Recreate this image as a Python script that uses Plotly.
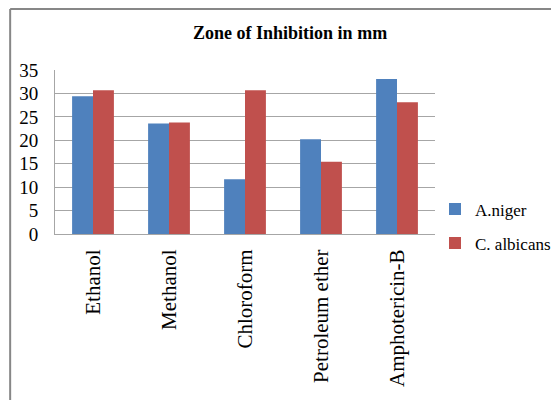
import plotly.graph_objects as go

categories = ["Ethanol", "Methanol", "Chloroform", "Petroleum ether", "Amphotericin-B"]
a_niger = [29.4, 23.6, 11.7, 20.2, 33.1]
c_albicans = [30.7, 23.8, 30.7, 15.4, 28.1]
series_names = ["A.niger", "C. albicans"]
y_ticks = [0, 5, 10, 15, 20, 25, 30, 35]

FONT = "Liberation Serif"

fig = go.Figure()
fig.add_trace(go.Bar(x=categories, y=a_niger, name=series_names[0], legendgroup="a",
                     marker=dict(color="#4F81BD", line=dict(width=0))))
fig.add_trace(go.Bar(x=categories, y=c_albicans, name=series_names[1], legendgroup="b",
                     marker=dict(color="#C0504D", line=dict(width=0))))

# page body has an 8px margin, so the figure is 551x392 drawn at (8,8)
fig.update_layout(
    width=551, height=392,
    margin=dict(l=47, r=124, t=62, b=166, autoexpand=False),
    paper_bgcolor="white", plot_bgcolor="white",
    barmode="group", bargap=0.45, bargroupgap=0,
    font=dict(family=FONT, color="black", size=18),
    title=dict(text="<b>Zone of Inhibition in mm</b>", x=0.512, xref="container",
               xanchor="center", y=0.936, yref="container", yanchor="middle",
               font=dict(family=FONT, size=18, color="black")),
    legend=dict(x=1.0, xanchor="left", y=0.046, yanchor="middle",
                font=dict(family=FONT, size=17, color="black"),
                bgcolor="rgba(0,0,0,0)", itemwidth=30, tracegroupgap=9),
    showlegend=True,
)
fig.update_yaxes(range=[0, 35], tickvals=y_ticks, ticks="", showgrid=True,
                 gridcolor="#A6A6A6", gridwidth=1, showline=True, linecolor="#A6A6A6",
                 linewidth=1, zeroline=False, tickfont=dict(family=FONT, size=19),
                 ticklabelstandoff=12)
fig.update_xaxes(tickangle=-90, showline=True, linecolor="#A6A6A6", linewidth=1,
                 ticks="", tickfont=dict(family=FONT, size=21), ticklabelstandoff=6)

# outer chart frame
fig.add_shape(type="line", xref="paper", yref="paper", x0=-0.118, x1=2.0,
              y0=1.372, y1=1.372, line=dict(color="#878787", width=2))
fig.add_shape(type="line", xref="paper", yref="paper", x0=-0.118, x1=-0.118,
              y0=-2.0, y1=1.372, line=dict(color="#878787", width=2))

fig.write_html("out.html")
